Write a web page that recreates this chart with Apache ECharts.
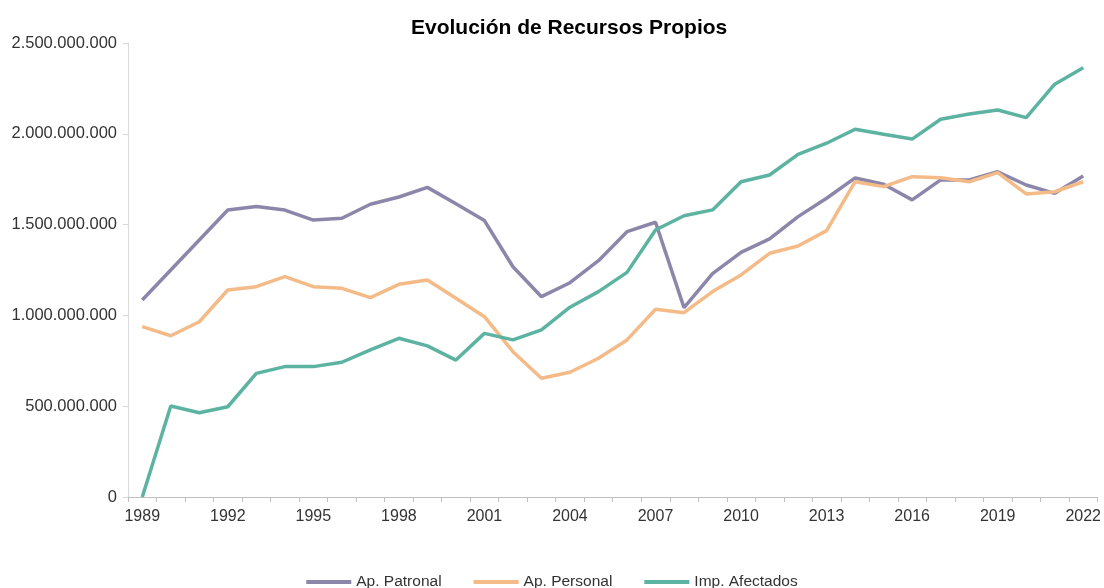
<!DOCTYPE html>
<html>
<head>
<meta charset="utf-8">
<script src="https://cdn.jsdelivr.net/npm/echarts@6/dist/echarts.min.js"></script>
<style>
  html, body { margin: 0; padding: 0; background: #fff; }
  #chart { width: 1104px; height: 588px; }
</style>
</head>
<body>
<div id="chart"></div>
<script>
  // años
  var years = []
  for (var y = 1989; y <= 2022; y++) years.push(String(y))

  // valores (en pesos)
  var apPatronal = [
    1085e6, 1250e6, 1415e6, 1580e6, 1600e6, 1580e6, 1525e6, 1535e6, 1612e6, 1652e6,
    1705e6, 1615e6, 1522e6, 1268e6, 1103e6, 1180e6, 1301e6, 1461e6, 1513e6, 1043e6,
    1230e6, 1347e6, 1421e6, 1544e6, 1645e6, 1757e6, 1722e6, 1636e6, 1746e6, 1746e6,
    1791e6, 1718e6, 1672e6, 1768e6
  ]
  var apPersonal = [
    938e6, 888e6, 965e6, 1140e6, 1158e6, 1213e6, 1158e6, 1149e6, 1098e6, 1171e6,
    1195e6, 1094e6, 993e6, 800e6, 654e6, 687e6, 764e6, 865e6, 1034e6, 1015e6,
    1131e6, 1223e6, 1342e6, 1382e6, 1467e6, 1736e6, 1709e6, 1764e6, 1758e6, 1736e6,
    1786e6, 1669e6, 1681e6, 1736e6
  ]
  var impAfectados = [
    0, 501e6, 464e6, 497e6, 681e6, 718e6, 718e6, 742e6, 810e6, 874e6,
    832e6, 754e6, 901e6, 865e6, 920e6, 1045e6, 1131e6, 1237e6, 1470e6, 1549e6,
    1581e6, 1736e6, 1773e6, 1887e6, 1948e6, 2025e6, 1997e6, 1971e6, 2080e6, 2109e6,
    2131e6, 2089e6, 2273e6, 2364e6
  ]

  var colors = {
    'Ap. Patronal': '#8c87aa',
    'Ap. Personal': '#f4bb88',
    'Imp. Afectados': '#5db3a1'
  }
  var fontFam = 'Liberation Sans, Arial, sans-serif'
  var txtColor = '#333333'

  function fmt (v) {
    return String(v).replace(/\B(?=(\d{3})+(?!\d))/g, '.')
  }

  function serie (name, data) {
    return {
      name: name,
      type: 'line',
      data: data,
      showSymbol: false,
      symbol: 'none',
      lineStyle: { color: colors[name], width: 3.5 },
      itemStyle: { color: colors[name] }
    }
  }

  var chart = echarts.init(document.getElementById('chart'))
  chart.setOption({
    animation: false,
    title: {
      text: 'Evolución de Recursos Propios',
      left: 406,
      top: 13,
      textStyle: { fontSize: 21, fontWeight: 'bold', color: '#000', fontFamily: fontFam }
    },
    legend: {
      top: 569,
      left: 'center',
      icon: 'rect',
      itemWidth: 45,
      itemHeight: 4,
      itemGap: 32,
      textStyle: { color: txtColor, fontSize: 15.5, fontFamily: fontFam },
      data: ['Ap. Patronal', 'Ap. Personal', 'Imp. Afectados']
    },
    grid: { left: 128, right: 5, top: 43, bottom: 91, containLabel: false },
    xAxis: {
      type: 'category',
      data: years,
      boundaryGap: true,
      axisLine: { lineStyle: { color: '#bfbfbf', width: 1 } },
      axisTick: { show: true, interval: 0, length: 5, lineStyle: { color: '#bfbfbf' } },
      axisLabel: { interval: 2, margin: 12, color: txtColor, fontSize: 16, fontFamily: fontFam }
    },
    yAxis: {
      type: 'value',
      min: 0,
      max: 2500000000,
      interval: 500000000,
      axisLine: { show: true, lineStyle: { color: '#d9d9d9' } },
      axisTick: { show: true, length: 5, lineStyle: { color: '#d9d9d9' } },
      splitLine: { show: false },
      axisLabel: { margin: 11, color: txtColor, fontSize: 16.5, fontFamily: fontFam, formatter: fmt }
    },
    series: [
      serie('Ap. Patronal', apPatronal),
      serie('Ap. Personal', apPersonal),
      serie('Imp. Afectados', impAfectados)
    ]
  })
</script>
</body>
</html>
